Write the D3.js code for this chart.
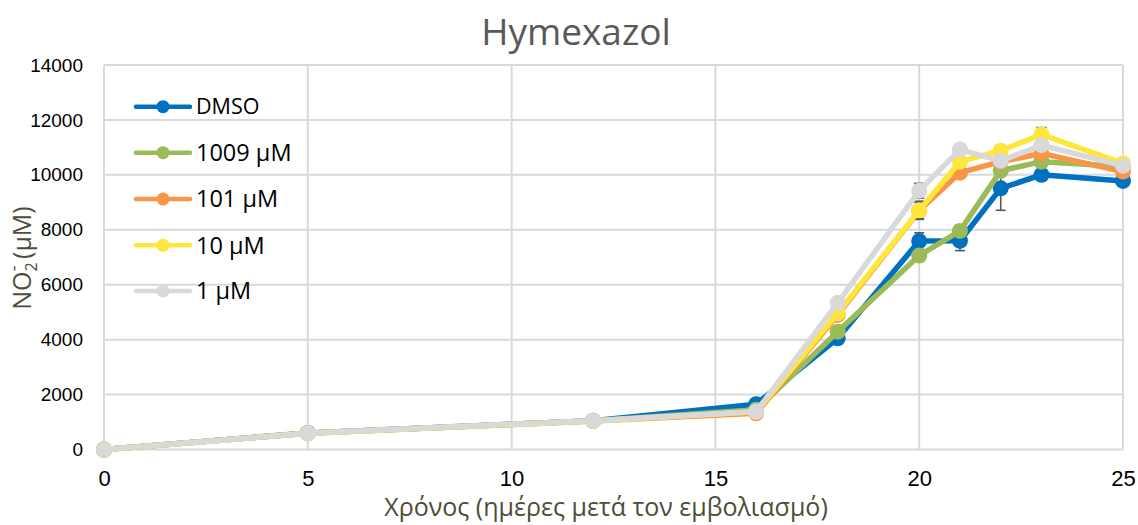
<!DOCTYPE html>
<html>
<head>
<meta charset="utf-8">
<script src="https://cdn.jsdelivr.net/npm/d3@7"></script>
<style>
  body { margin: 0; background: #fff; }
  svg { display: block; }
</style>
</head>
<body>
<div id="chart"></div>
<script>
// Datos
const dias = [0, 5, 12, 16, 18, 20, 21, 22, 23, 25]
const nombres = ["DMSO", "1009 μM", "101 μM", "10 μM", "1 μM"]
const colores = ["#0070C0", "#9BBB59", "#F79646", "#FFE63B", "#D9D9D9"]

const dmso   = [0, 600, 1050, 1650, 4050, 7590, 7600, 9510, 10000, 9780]
const c1009  = [0, 595, 1045, 1450, 4290, 7060, 7960, 10150, 10480, 10300]
const c101   = [0, 590, 1040, 1320, 4900, 8700, 10080, 10480, 10780, 10120]
const c10    = [0, 590, 1040, 1370, 4960, 8710, 10480, 10880, 11470, 10420]
const c1     = [0, 590, 1050, 1380, 5340, 9420, 10920, 10510, 11080, 10330]

// desviaciones (barras de error)
const errDmso  = [0, 50, 60, 80, 150, 300, 360, 800, 150, 100]
const err1009  = [0, 50, 60, 80, 150, 200, 200, 200, 150, 100]
const err101   = [0, 50, 60, 80, 150, 300, 200, 200, 150, 100]
const err10    = [0, 50, 60, 80, 150, 330, 200, 200, 250, 100]
const err1     = [0, 50, 60, 80, 150, 270, 200, 200, 150, 100]

const yTicks = [0, 2000, 4000, 6000, 8000, 10000, 12000, 14000]
const xTicks = [0, 5, 10, 15, 20, 25]

const series = nombres.map((n, i) => ({
  nombre: n,
  color: colores[i],
  valores: [dmso, c1009, c101, c10, c1][i],
  err: [errDmso, err1009, err101, err10, err1][i]
}))

// Dimensiones
const ancho = 1138
const alto = 525
const margen = { top: 65, right: 15, bottom: 75.5, left: 104 }

const svg = d3.select("#chart")
  .append("svg")
  .attr("width", ancho)
  .attr("height", alto)

const x = d3.scaleLinear().domain([0, 25]).range([margen.left, ancho - margen.right])
const y = d3.scaleLinear().domain([0, 14000]).range([alto - margen.bottom, margen.top])

// Rejilla
const grid = svg.append("g")
grid.selectAll("line.h")
  .data(yTicks)
  .join("line")
  .attr("class", "h")
  .attr("x1", x(0)).attr("x2", x(25))
  .attr("y1", d => y(d)).attr("y2", d => y(d))
  .attr("stroke", "#d9d9d9").attr("stroke-width", 2)
grid.selectAll("line.v")
  .data(xTicks)
  .join("line")
  .attr("class", "v")
  .attr("x1", d => x(d)).attr("x2", d => x(d))
  .attr("y1", y(0)).attr("y2", y(14000))
  .attr("stroke", "#d9d9d9").attr("stroke-width", 2)

// Ejes (solo etiquetas)
const ejeY = svg.append("g")
  .attr("transform", `translate(${margen.left},0)`)
  .call(d3.axisLeft(y).tickValues(yTicks).tickFormat(d3.format("d")).tickSize(0).tickPadding(21))
ejeY.select(".domain").remove()
ejeY.selectAll("text")
  .attr("font-family", "Liberation Sans, Arial, sans-serif")
  .attr("font-size", 19)
  .attr("fill", "#000")

const ejeX = svg.append("g")
  .attr("transform", `translate(0,${y(0)})`)
  .call(d3.axisBottom(x).tickValues(xTicks).tickSize(0).tickPadding(21))
ejeX.select(".domain").remove()
ejeX.selectAll("text")
  .attr("font-family", "Liberation Sans, Arial, sans-serif")
  .attr("font-size", 22)
  .attr("fill", "#000")

// Series
const linea = d3.line()
  .x((d, i) => x(dias[i]))
  .y(d => y(d))

series.forEach(s => {
  const g = svg.append("g")
  // barras de error
  const eb = g.append("g").attr("stroke", "#595959").attr("stroke-width", 1.6)
  s.valores.forEach((v, i) => {
    const e = s.err[i]
    if (!e) return
    const cx = x(dias[i])
    eb.append("line").attr("x1", cx).attr("x2", cx).attr("y1", y(v - e)).attr("y2", y(v + e))
    eb.append("line").attr("x1", cx - 5).attr("x2", cx + 5).attr("y1", y(v - e)).attr("y2", y(v - e))
    eb.append("line").attr("x1", cx - 5).attr("x2", cx + 5).attr("y1", y(v + e)).attr("y2", y(v + e))
  })
  g.append("path")
    .attr("d", linea(s.valores))
    .attr("fill", "none")
    .attr("stroke", s.color)
    .attr("stroke-width", 5.5)
    .attr("stroke-linejoin", "round")
    .attr("stroke-linecap", "round")
  g.selectAll("circle")
    .data(s.valores)
    .join("circle")
    .attr("cx", (d, i) => x(dias[i]))
    .attr("cy", d => y(d))
    .attr("r", 8)
    .attr("fill", s.color)
})

// Leyenda
const leyenda = svg.append("g")
const filasY = [106.7, 152.7, 199, 245.3, 291]
series.forEach((s, i) => {
  const fy = filasY[i]
  leyenda.append("line")
    .attr("x1", 136).attr("x2", 190)
    .attr("y1", fy).attr("y2", fy)
    .attr("stroke", s.color).attr("stroke-width", 4.5)
    .attr("stroke-linecap", "round")
  leyenda.append("circle")
    .attr("cx", 163).attr("cy", fy).attr("r", 6.5)
    .attr("fill", s.color)
  leyenda.append("text")
    .attr("x", 196).attr("y", fy)
    .attr("dy", "0.36em")
    .attr("font-family", "Open Sans, sans-serif")
    .attr("font-size", i === 0 ? 21.5 : 23.5)
    .attr("fill", "#000")
    .text(s.nombre)
})

// Titulo
svg.append("text")
  .attr("x", 576)
  .attr("y", 45)
  .attr("text-anchor", "middle")
  .attr("font-family", "Open Sans, sans-serif")
  .attr("font-size", 37)
  .attr("fill", "#595959")
  .text("Hymexazol")

// Titulo eje X
svg.append("text")
  .attr("x", 606)
  .attr("y", 516)
  .attr("text-anchor", "middle")
  .attr("font-family", "Open Sans, sans-serif")
  .attr("font-size", 25)
  .attr("fill", "#4d4d36")
  .text("Χρόνος (ημέρες μετά τον εμβολιασμό)")

// Titulo eje Y
const ty = svg.append("text")
  .attr("transform", "translate(31,258) rotate(-90)")
  .attr("text-anchor", "middle")
  .attr("font-family", "Open Sans, sans-serif")
  .attr("font-size", 25)
  .attr("fill", "#4d4d36")
ty.append("tspan").text("NO")
ty.append("tspan").attr("font-size", 16).attr("dy", 6).text("2")
ty.append("tspan").attr("font-size", 18).attr("dx", -9).attr("dy", -17).text("-")
ty.append("tspan").attr("dy", 11).text(" (μM)")
</script>
</body>
</html>
